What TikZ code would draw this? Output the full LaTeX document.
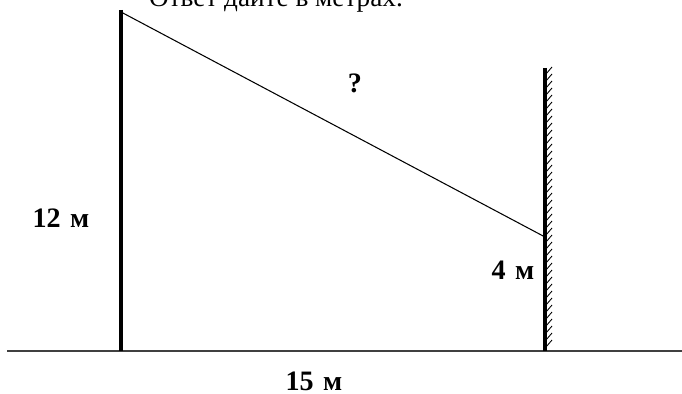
\documentclass[tikz,border=0pt]{standalone}
\usepackage{fontspec}
\setmainfont{Liberation Serif}
\usetikzlibrary{positioning}

\tikzset{
  post/.style={line width=1.8pt},
  wire/.style={line width=0.6pt},
  groundline/.style={line width=1.1pt, black!75},
  hatchline/.style={line width=0.5pt},
  lbl/.style={font=\fontsize{16}{18}\selectfont\bfseries, inner sep=0pt}
}

\begin{document}
\begin{tikzpicture}[x=0.02cm, y=-0.02cm]
\clip (0,0) rectangle (682,394);
% text above, cut by the page edge
\node[font=\fontsize{15.5}{18}\selectfont, anchor=base, inner sep=0pt] (task) at (276,7) {Ответ дайте в метрах.};
% points
\coordinate (gL) at (7,351);
\coordinate (gR) at (682,351);
\coordinate (poleTop) at (121,10);
\coordinate (poleFoot) at (121,351);
\coordinate (wallTop) at (545,68);
\coordinate (wallFoot) at (545,351);
\coordinate (wireTop) at (121,12);
\coordinate (wireEnd) at (545,237);
% ground and posts
\draw[groundline] (gL) -- (gR);
\draw[post] (poleTop) -- (poleFoot);
\draw[post] (wallTop) -- (wallFoot);
\foreach \y in {74,81,...,350} {
  \draw[hatchline] (546,\y) -- ++(6,-7);
}
\draw[wire] (wireTop) -- (wireEnd);
% labels
\node[lbl] (q) at (355,83) {?};
\node[lbl] (h1) at (61,218) {12\,\,м};
\node[lbl] (h2) at (513,270) {4\,\,м};
\node[lbl] (d) at (314,381) {15\,\,м};
\end{tikzpicture}
\end{document}
